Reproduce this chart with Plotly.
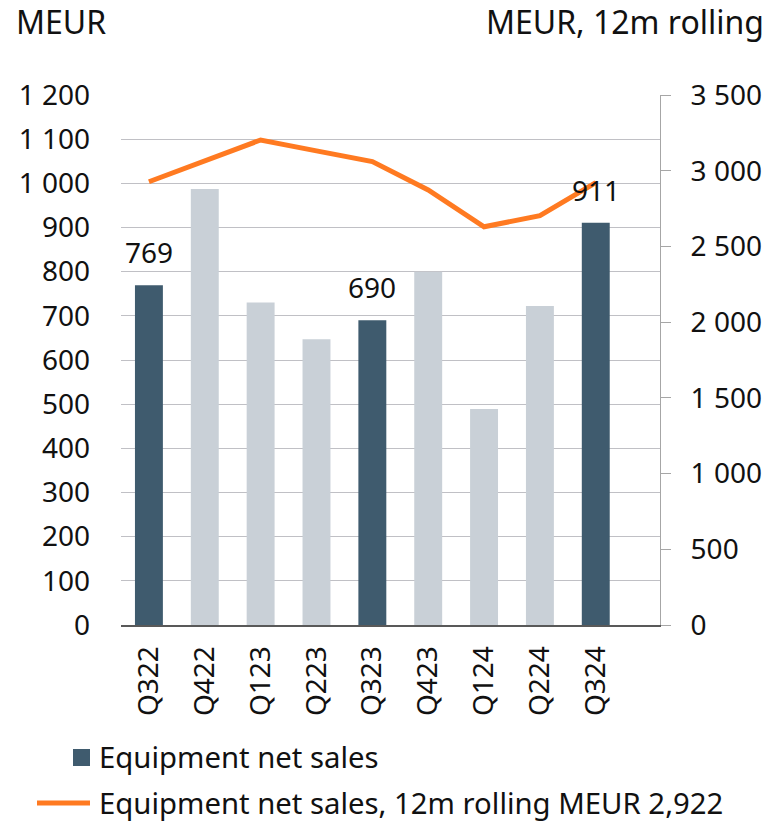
import plotly.graph_objects as go

# Quarterly equipment net sales (MEUR) and 12-month rolling sum (MEUR)
quarters = ["Q322", "Q422", "Q123", "Q223", "Q323", "Q423", "Q124", "Q224", "Q324"]
net_sales = [769, 987, 730, 647, 690, 800, 489, 722, 911]
rolling_12m = [2927, 3063, 3203, 3131, 3060, 2873, 2630, 2703, 2922]
highlight = [True, False, False, False, True, False, False, False, True]

left_ticks = list(range(0, 1201, 100))
right_ticks = list(range(0, 3501, 500))

DARK = "#3F5B6E"
LIGHT = "#C9D0D7"
ORANGE = "#FF7A21"
GRID = "#C0C0C5"
TEXT = "#111111"
FONT = "Noto Sans"

W, H = 768, 822
L, R, T, B = 121, 660, 95, 625


def px_x(px):
    return (px - L) / (R - L)


def px_y(py):
    return (B - py) / (B - T)


fig = go.Figure()

fig.add_trace(go.Bar(
    x=quarters,
    y=net_sales,
    marker=dict(color=[DARK if h else LIGHT for h in highlight], line=dict(width=0)),
    width=0.5,
    name="Equipment net sales",
    showlegend=False,
    yaxis="y",
))

fig.add_trace(go.Scatter(
    x=quarters,
    y=rolling_12m,
    mode="lines",
    line=dict(color=ORANGE, width=5),
    name="Equipment net sales, 12m rolling MEUR 2,922",
    showlegend=False,
    yaxis="y2",
))

annotations = []
# value labels above the highlighted quarters
for q, v, h in zip(quarters, net_sales, highlight):
    if h:
        annotations.append(dict(
            x=q, y=v, xref="x", yref="y", text=str(v), showarrow=False,
            yanchor="bottom", yshift=12, font=dict(family=FONT, size=28, color=TEXT),
        ))

# axis unit captions
title_font = dict(family=FONT, size=32, color=TEXT)
annotations.append(dict(
    x=px_x(14), y=px_y(22), xref="paper", yref="paper", text="MEUR",
    showarrow=False, xanchor="left", yanchor="middle", font=title_font,
))
annotations.append(dict(
    x=px_x(766), y=px_y(22), xref="paper", yref="paper", text="MEUR, 12m rolling",
    showarrow=False, xanchor="right", yanchor="middle", font=title_font,
))

# legend
legend_font = dict(family=FONT, size=29.3, color=TEXT)
annotations.append(dict(
    x=px_x(97), y=px_y(757), xref="paper", yref="paper", text="Equipment net sales",
    showarrow=False, xanchor="left", yanchor="middle", font=legend_font,
))
annotations.append(dict(
    x=px_x(97), y=px_y(803), xref="paper", yref="paper",
    text="Equipment net sales, 12m rolling MEUR 2,922",
    showarrow=False, xanchor="left", yanchor="middle", font=legend_font,
))
shapes = [
    dict(type="rect", xref="paper", yref="paper",
         x0=px_x(73), x1=px_x(90), y0=px_y(766), y1=px_y(749),
         fillcolor=DARK, line=dict(width=0)),
    dict(type="line", xref="paper", yref="paper",
         x0=px_x(37), x1=px_x(90), y0=px_y(803), y1=px_y(803),
         line=dict(color=ORANGE, width=5)),
]

fig.update_layout(
    width=W, height=H,
    margin=dict(l=L, r=W - R, t=T, b=H - B, pad=0, autoexpand=False),
    paper_bgcolor="white", plot_bgcolor="white",
    separators=", ",
    font=dict(family=FONT, size=28, color=TEXT),
    bargap=0.5,
    xaxis=dict(
        range=[-0.5, 9.15],
        tickangle=-90,
        automargin=False,
        showline=True, linecolor="#595959", linewidth=2,
        showgrid=False, ticks="",
        ticklabelstandoff=8,
        tickfont=dict(family=FONT, size=28, color=TEXT),
    ),
    yaxis=dict(
        range=[0, 1200],
        tickvals=left_ticks,
        tickformat=",d",
        automargin=False,
        showgrid=True, gridcolor=GRID, gridwidth=1,
        zeroline=False, showline=False, ticks="",
        ticklabelstandoff=30,
        tickfont=dict(family=FONT, size=28, color=TEXT),
    ),
    yaxis2=dict(
        range=[0, 3500],
        tickvals=right_ticks,
        tickformat=",d",
        automargin=False,
        overlaying="y", side="right",
        showgrid=False, zeroline=False,
        showline=True, linecolor="#A6A6A6", linewidth=1,
        ticks="outside", ticklen=10, tickcolor="#A6A6A6", tickwidth=1,
        ticklabelstandoff=14,
        tickfont=dict(family=FONT, size=28, color=TEXT),
    ),
    annotations=annotations,
    shapes=shapes,
)

fig.write_html("out.html")
